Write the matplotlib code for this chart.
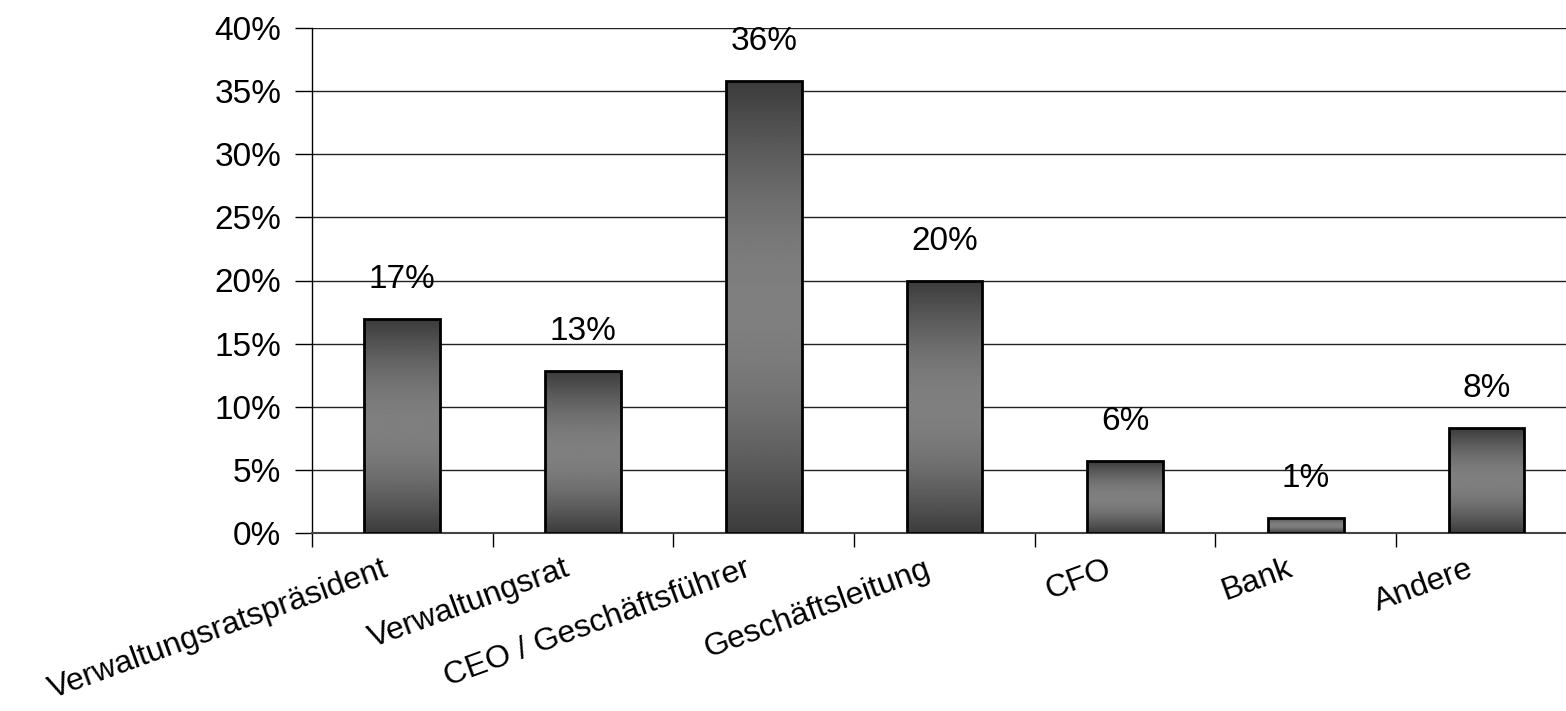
import numpy as np
import matplotlib.pyplot as plt
from matplotlib.ticker import FuncFormatter, FixedLocator

categories = ['Verwaltungsratspräsident', 'Verwaltungsrat', 'CEO / Geschäftsführer',
              'Geschäftsleitung', 'CFO', 'Bank', 'Andere']
values = [16.95, 12.8, 35.8, 19.95, 5.7, 1.2, 8.3]
labels = ['17%', '13%', '36%', '20%', '6%', '1%', '8%']

plt.rcParams['font.family'] = ['Liberation Sans', 'DejaVu Sans']

fig = plt.figure(figsize=(15.66, 7.11), dpi=100)
ax = fig.add_axes([312 / 1566, 1 - 533 / 711, 1 - 312 / 1566, 505 / 711])

x = np.arange(len(categories))
bars = ax.bar(x, values, width=0.42, facecolor='none', edgecolor='black', linewidth=2, zorder=3)

# vertical gradient: dark top/bottom, lighter middle
t = np.linspace(0, 1, 256)
shade = 0.235 + (0.50 - 0.235) * np.sin(np.pi * t)
grad = np.repeat(shade[:, None], 2, axis=1)
for b in bars:
    x0, y0 = b.get_x(), b.get_y()
    w, h = b.get_width(), b.get_height()
    im = ax.imshow(grad, cmap='gray', vmin=0, vmax=1, aspect='auto',
                   extent=[x0, x0 + w, y0, y0 + h], origin='lower', zorder=2,
                   interpolation='bilinear')
    im.set_clip_path(b)

for xi, v, lab in zip(x, values, labels):
    ax.text(xi, v + 1.9, lab, ha='center', va='bottom', fontsize=24)

ax.set_xlim(-0.5, -0.5 + (1566 - 312) / 180.7)
ax.set_ylim(0, 40)
ax.set_yticks(np.arange(0, 41, 5))
ax.yaxis.set_major_formatter(FuncFormatter(lambda v, p: f'{int(v)}%'))
ax.grid(axis='y', color='#222222', linewidth=1, zorder=1)

ax.xaxis.set_major_locator(FixedLocator(x - 0.5))
ax.set_xticklabels([])
ax.set_xticks(x - 0.11, minor=True)
ax.set_xticklabels(categories, minor=True, rotation=20, ha='right',
                   rotation_mode='anchor', fontsize=23)
ax.tick_params(axis='x', which='minor', length=0, pad=15)
ax.tick_params(axis='x', which='major', length=10, width=1, direction='out')
ax.tick_params(axis='y', length=12, width=1, direction='out', labelsize=24, pad=10)

for s in ['top', 'right']:
    ax.spines[s].set_visible(False)
ax.spines['left'].set_linewidth(1)
ax.spines['bottom'].set_color('#444444')
ax.spines['bottom'].set_linewidth(1.5)

fig.savefig('out.png', dpi=100)
